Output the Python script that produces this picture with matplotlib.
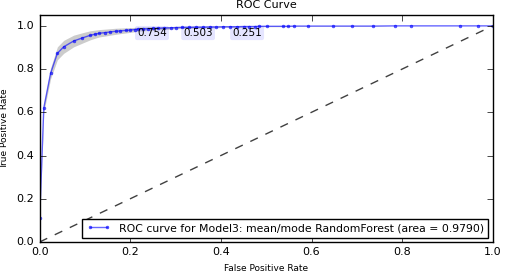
import numpy as np
import matplotlib
matplotlib.use('Agg')
import matplotlib.pyplot as plt

# ROC points
fpr = [0.0, 0.0, 0.009, 0.024, 0.039, 0.053, 0.075, 0.094, 0.111, 0.121, 0.132,
       0.145, 0.156, 0.168, 0.178, 0.19, 0.2, 0.21, 0.217, 0.228, 0.24, 0.25,
       0.262, 0.275, 0.29, 0.3, 0.315, 0.33, 0.345, 0.36, 0.375, 0.39, 0.405,
       0.42, 0.435, 0.45, 0.462, 0.476, 0.483, 0.502, 0.538, 0.549, 0.562,
       0.593, 0.648, 0.69, 0.736, 0.785, 0.82, 0.928, 0.968, 1.0]
tpr = [0.0, 0.11, 0.62, 0.78, 0.873, 0.903, 0.93, 0.944, 0.956, 0.961, 0.966,
       0.969, 0.972, 0.975, 0.977, 0.979, 0.981, 0.983, 0.985, 0.986, 0.987, 0.988,
       0.989, 0.99, 0.991, 0.992, 0.993, 0.993, 0.994, 0.994, 0.995, 0.995, 0.996,
       0.996, 0.996, 0.997, 0.997, 0.997, 0.998, 0.998, 0.998, 0.998, 0.999,
       0.999, 0.999, 0.999, 0.999, 1.0, 1.0, 1.0, 1.0, 1.0]
tpr_std = [0.0, 0.01, 0.02, 0.025, 0.03, 0.03, 0.027, 0.024, 0.021, 0.019, 0.017,
           0.016, 0.015, 0.014, 0.013, 0.012, 0.011, 0.01, 0.009, 0.009, 0.008, 0.008,
           0.007, 0.007, 0.006, 0.006, 0.005, 0.005, 0.005, 0.004, 0.004, 0.004, 0.003,
           0.003, 0.003, 0.003, 0.002, 0.002, 0.002, 0.002, 0.002, 0.002, 0.001,
           0.001, 0.001, 0.001, 0.001, 0.0, 0.0, 0.0, 0.0, 0.0]

thr_labels = ['0.754', '0.503', '0.251']
thr_x = [0.215, 0.317, 0.425]
thr_y = [0.99, 0.99, 0.99]

area = 0.9790

plt.style.use('classic')
plt.rc('font', size=8)
plt.rc('figure', facecolor='white')

fpr = np.array(fpr)
tpr = np.array(tpr)
tpr_std = np.array(tpr_std)

fig = plt.figure(figsize=(5.09, 2.74), dpi=100)
ax = fig.add_axes([0.078, 0.117, 0.89, 0.828])
ax.fill_between(fpr, tpr - tpr_std, np.minimum(tpr + tpr_std, 1.0),
                color='gray', alpha=0.4, lw=0)
ax.plot(fpr, tpr, color='blue', alpha=0.6, lw=1, marker='.', ms=4, mec='blue',
        label='ROC curve for Model3: mean/mode RandomForest (area = %0.4f)' % area)
ax.plot([0, 1], [0, 1], ls='--', color='0.25', lw=1)
for lab, x, y in zip(thr_labels, thr_x, thr_y):
    ax.text(x, y, lab, ha='left', va='top', fontsize=7.5,
            bbox=dict(boxstyle='round,pad=0.2', fc=(0, 0, 1, 0.1), ec='none'))
ax.set_xlim(0, 1)
ax.set_ylim(0, 1.05)
ax.set_xlabel('False Positive Rate', fontsize=6.5)
ax.set_ylabel('True Positive Rate', fontsize=6.5)
ax.set_title('ROC Curve', fontsize=8)
ax.legend(loc='lower right', fontsize=7.8, numpoints=2, borderaxespad=0.4,
          handlelength=2.2)
plt.savefig('out.png', dpi=100, facecolor='white')
